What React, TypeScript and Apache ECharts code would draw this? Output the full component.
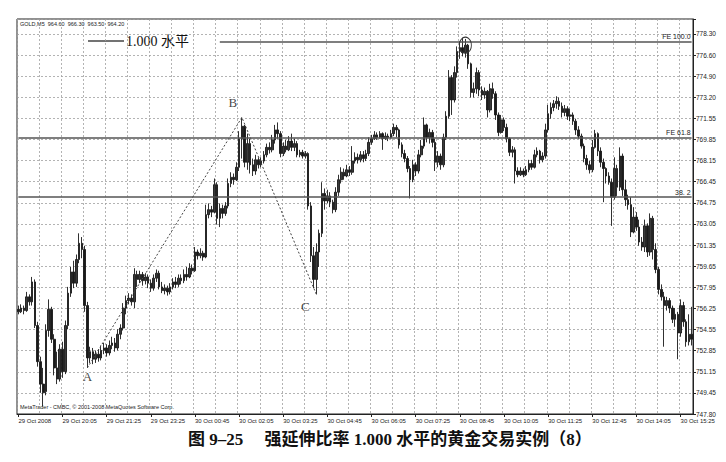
import React, { useEffect, useRef } from 'react';
import * as echarts from 'echarts';

const tickLabels = [
  '29 Oct 2008', '29 Oct 20:05', '29 Oct 21:25', '29 Oct 23:25', '30 Oct 00:45', '30 Oct 02:05',
  '30 Oct 03:25', '30 Oct 04:45', '30 Oct 06:05', '30 Oct 07:25', '30 Oct 08:45', '30 Oct 10:05',
  '30 Oct 11:25', '30 Oct 12:45', '30 Oct 14:05', '30 Oct 15:25',
];

const priceLabels = [
  '747.80', '749.45', '751.15', '752.85', '754.55', '756.25', '757.95', '759.65', '761.35', '763.05',
  '764.75', '766.45', '768.15', '769.85', '771.55', '773.20', '774.90', '776.60', '778.30',
];

const opens = [
  756.2, 756.0, 756.3, 756.1, 757.2, 756.8, 758.4, 754.9, 752.0, 750.2,
  749.6, 754.5, 756.2, 753.8, 751.5, 750.6, 753.0, 751.2, 754.9, 757.5,
  759.2, 758.3, 760.2, 761.5, 761.0, 756.5, 752.3, 752.8, 752.2, 752.6,
  752.3, 752.9, 753.1, 752.7, 753.3, 753.5, 753.1, 754.2, 754.7, 756.3,
  756.9, 757.1, 756.8, 759.0, 758.6, 759.0, 758.5, 758.8, 758.3, 757.9,
  758.7, 759.1, 758.0, 757.7, 757.9, 757.6, 758.0, 758.4, 758.2, 758.7,
  758.5, 759.0, 758.8, 759.5, 759.3, 760.8, 760.5, 760.7, 760.4, 763.8,
  764.2, 764.0, 766.2, 763.5, 764.3, 763.9, 764.5, 766.3, 766.8, 766.6,
  767.6, 769.9, 770.9, 768.0, 769.5, 767.8, 767.3, 768.2, 767.8, 768.1,
  768.6, 769.2, 769.0, 769.8, 770.6, 770.3, 768.7, 769.3, 769.0, 769.7,
  769.2, 769.5, 768.6, 768.8, 768.5, 768.7, 764.5, 760.5, 758.6, 760.8,
  762.3, 765.5, 764.9, 765.3, 764.8, 764.2, 765.6, 766.6, 767.2, 766.9,
  767.4, 767.2, 768.1, 768.4, 768.2, 768.6, 768.3, 768.7, 769.6, 769.9,
  770.2, 770.0, 770.3, 769.9, 770.1, 770.0, 770.3, 770.8, 770.6, 769.4,
  768.7, 768.3, 767.5, 766.6, 767.8, 767.3, 768.6, 769.3, 771.0, 770.0,
  770.4, 769.6, 768.0, 768.5, 767.8, 770.0, 771.7, 774.8, 773.0, 775.2,
  776.9, 777.2, 776.8, 777.4, 775.9, 773.6, 773.9, 775.2, 773.8, 773.4,
  773.7, 772.2, 773.9, 773.5, 771.8, 770.4, 771.4, 770.8, 769.9, 768.8,
  769.0, 767.3, 767.0, 767.3, 767.0, 767.4, 767.9, 767.6, 768.6, 768.9,
  768.2, 768.5, 770.6, 771.9, 772.4, 772.7, 772.9, 772.5, 772.0, 772.3,
  771.7, 771.8, 771.3, 770.6, 770.1, 769.3, 768.3, 767.8, 767.4, 769.2,
  770.3, 768.9, 768.0, 767.5, 766.9, 766.4, 765.2, 767.5, 766.0, 768.5,
  765.8, 765.0, 764.6, 762.4, 763.6, 762.8, 761.6, 761.2, 762.9, 760.8,
  763.5, 761.0, 759.4, 757.8, 757.2, 756.5, 756.9, 756.3, 755.4, 755.8,
  754.3, 756.5, 755.2, 753.6, 754.2,
];

const closes = [
  756.0, 756.3, 756.1, 757.2, 756.8, 758.4, 754.9, 752.0, 750.2, 749.5,
  754.5, 756.2, 753.8, 751.5, 750.6, 753.0, 751.2, 754.9, 757.5, 759.2,
  758.3, 760.2, 761.5, 761.0, 756.5, 752.3, 752.8, 752.2, 752.6, 752.3,
  752.9, 753.1, 752.7, 753.3, 753.5, 753.1, 754.2, 754.7, 756.3, 756.9,
  757.1, 756.8, 759.0, 758.6, 759.0, 758.5, 758.8, 758.3, 757.9, 758.7,
  759.1, 758.0, 757.7, 757.9, 757.6, 758.0, 758.4, 758.2, 758.7, 758.5,
  759.0, 758.8, 759.5, 759.3, 760.8, 760.5, 760.7, 760.4, 763.8, 764.2,
  764.0, 766.2, 763.5, 764.3, 763.9, 764.5, 766.3, 766.8, 766.6, 767.6,
  769.9, 770.9, 768.0, 769.5, 767.8, 767.3, 768.2, 767.8, 768.1, 768.6,
  769.2, 769.0, 769.8, 770.6, 770.3, 768.7, 769.3, 769.0, 769.7, 769.2,
  769.5, 768.6, 768.8, 768.5, 768.7, 764.5, 760.5, 758.6, 760.8, 762.3,
  765.5, 764.9, 765.3, 764.8, 764.2, 765.6, 766.6, 767.2, 766.9, 767.4,
  767.2, 768.1, 768.4, 768.2, 768.6, 768.3, 768.7, 769.6, 769.9, 770.2,
  770.0, 770.3, 769.9, 770.1, 770.0, 770.3, 770.8, 770.6, 769.4, 768.7,
  768.3, 767.5, 766.6, 767.8, 767.3, 768.6, 769.3, 771.0, 770.0, 770.4,
  769.6, 768.0, 768.5, 767.8, 770.0, 771.7, 774.8, 773.0, 775.2, 776.9,
  777.2, 776.8, 777.4, 775.9, 773.6, 773.9, 775.2, 773.8, 773.4, 773.7,
  772.2, 773.9, 773.5, 771.8, 770.4, 771.4, 770.8, 769.9, 768.8, 769.0,
  767.3, 767.0, 767.3, 767.0, 767.4, 767.9, 767.6, 768.6, 768.9, 768.2,
  768.5, 770.6, 771.9, 772.4, 772.7, 772.9, 772.5, 772.0, 772.3, 771.7,
  771.8, 771.3, 770.6, 770.1, 769.3, 768.3, 767.8, 767.4, 769.2, 770.3,
  768.9, 768.0, 767.5, 766.9, 766.4, 765.2, 767.5, 766.0, 768.5, 765.8,
  765.0, 764.6, 762.4, 763.6, 762.8, 761.6, 761.2, 762.9, 760.8, 763.5,
  761.0, 759.4, 757.8, 757.2, 756.5, 756.9, 756.3, 755.4, 755.8, 754.3,
  756.5, 755.2, 753.6, 754.2, 753.8,
];

const lows = [
  755.8, 755.9, 755.8, 756.0, 756.5, 756.5, 754.7, 751.6, 749.5, 748.4,
  749.3, 754.0, 753.5, 750.9, 750.2, 750.4, 750.7, 751.0, 754.6, 757.2,
  757.9, 758.0, 759.9, 760.3, 756.0, 751.5, 751.9, 751.8, 751.9, 752.0,
  752.1, 752.6, 752.4, 752.5, 753.0, 752.8, 752.9, 753.8, 754.5, 755.8,
  756.6, 756.5, 756.3, 758.0, 758.3, 758.1, 758.2, 757.9, 757.6, 757.7,
  758.4, 757.8, 757.5, 757.4, 757.3, 757.4, 757.8, 757.9, 758.0, 758.2,
  758.3, 758.5, 758.7, 759.0, 759.2, 760.2, 760.3, 760.1, 760.3, 763.5,
  763.6, 763.9, 763.0, 762.8, 763.5, 763.7, 764.3, 766.0, 766.2, 766.5,
  767.3, 768.3, 767.6, 767.4, 767.1, 766.9, 767.0, 767.5, 767.6, 767.9,
  768.4, 768.7, 768.8, 769.5, 769.9, 768.4, 768.5, 768.8, 768.9, 768.9,
  768.9, 768.4, 768.4, 768.3, 768.3, 764.2, 760.0, 757.9, 757.4, 759.6,
  762.0, 764.2, 764.7, 764.4, 763.9, 764.0, 765.3, 766.3, 766.6, 766.8,
  766.9, 767.0, 767.9, 767.9, 768.0, 768.0, 768.1, 768.5, 769.4, 769.8,
  769.8, 769.9, 769.0, 769.8, 769.7, 769.9, 770.1, 770.0, 769.1, 768.4,
  768.0, 767.2, 765.1, 766.4, 766.9, 767.1, 768.4, 769.1, 769.6, 769.5,
  769.2, 767.3, 767.6, 767.4, 767.6, 769.8, 771.5, 771.8, 772.8, 774.8,
  776.3, 776.5, 776.4, 775.5, 773.2, 773.2, 773.5, 773.3, 773.0, 773.1,
  771.6, 772.0, 773.1, 771.4, 770.1, 770.3, 770.5, 769.6, 768.5, 768.4,
  766.3, 766.8, 766.9, 766.8, 766.9, 767.2, 767.4, 767.5, 768.4, 767.9,
  768.0, 768.3, 770.4, 771.5, 772.1, 772.3, 772.2, 771.6, 771.7, 771.4,
  771.3, 771.0, 770.2, 769.9, 769.1, 768.0, 767.4, 767.1, 767.2, 769.1,
  768.5, 767.6, 764.8, 766.3, 766.2, 762.9, 765.0, 765.3, 765.7, 765.3,
  764.5, 764.2, 762.0, 762.3, 762.5, 761.3, 760.9, 760.8, 760.4, 760.5,
  760.2, 759.1, 757.4, 756.9, 753.2, 756.1, 755.9, 755.1, 754.8, 752.2,
  754.0, 754.8, 753.2, 753.3, 753.3,
];

const highs = [
  756.5, 756.6, 756.5, 757.6, 757.4, 758.8, 758.6, 755.2, 752.4, 751.5,
  755.0, 757.0, 756.4, 754.2, 752.8, 753.4, 753.6, 755.3, 758.0, 759.6,
  760.1, 760.6, 762.3, 762.0, 761.3, 756.8, 753.2, 753.1, 752.9, 753.0,
  753.3, 753.5, 753.4, 753.7, 754.0, 753.9, 754.6, 755.0, 756.7, 757.3,
  757.5, 757.4, 759.5, 759.3, 759.3, 759.2, 759.1, 759.0, 758.6, 759.0,
  759.4, 759.3, 758.4, 758.2, 758.1, 758.3, 758.7, 758.8, 759.0, 759.0,
  759.4, 759.6, 759.9, 759.8, 761.2, 761.0, 761.1, 760.9, 764.6, 764.7,
  764.5, 766.7, 766.4, 764.7, 764.6, 764.8, 766.7, 767.2, 767.1, 768.0,
  770.5, 771.6, 771.0, 770.3, 769.9, 768.3, 768.6, 768.4, 768.4, 768.9,
  769.5, 769.6, 770.2, 771.0, 771.2, 770.5, 769.6, 769.8, 770.1, 770.3,
  769.9, 769.7, 769.0, 769.0, 768.9, 768.8, 764.8, 761.2, 761.5, 762.6,
  766.4, 765.9, 765.8, 765.6, 765.0, 766.0, 767.0, 767.6, 767.5, 767.8,
  767.7, 769.3, 768.8, 768.7, 768.9, 768.9, 769.0, 770.0, 770.2, 770.5,
  770.4, 770.5, 770.4, 770.4, 770.3, 770.6, 771.1, 771.0, 770.7, 769.6,
  769.0, 768.5, 767.7, 768.2, 768.0, 769.0, 769.8, 771.6, 771.1, 770.7,
  770.6, 769.9, 768.9, 768.7, 770.3, 772.1, 775.4, 775.0, 775.7, 777.3,
  777.7, 778.0, 777.9, 777.5, 776.0, 774.4, 775.6, 775.4, 774.1, 774.0,
  773.8, 774.3, 774.4, 773.7, 772.0, 771.8, 771.6, 771.1, 770.0, 769.3,
  769.2, 767.6, 767.6, 767.5, 767.7, 768.2, 768.2, 769.0, 769.2, 769.0,
  768.8, 771.1, 772.6, 772.8, 773.0, 773.3, 773.2, 772.8, 772.6, 772.5,
  772.3, 772.0, 771.5, 770.9, 770.3, 769.5, 768.6, 768.1, 769.8, 770.6,
  770.4, 769.2, 768.3, 767.6, 767.2, 766.7, 768.4, 767.8, 769.2, 768.7,
  766.6, 765.4, 765.2, 764.4, 764.0, 763.4, 762.0, 763.4, 763.1, 763.9,
  763.7, 761.5, 759.6, 758.2, 757.6, 757.2, 757.1, 756.5, 756.3, 756.0,
  757.0, 756.8, 755.4, 755.8, 756.4,
];

const feLevels = [777.7, 770.0, 765.2];
const feNames = ['FE 100.0', 'FE 61.8', '38. 2'];
const feStartIndex = [73, 0, 0];

const swingNames = ['A', 'B', 'C'];
const swingIndex = [25, 81, 108];
const swingPrice = [751.5, 771.6, 757.4];

const peakIndex = 162;
const peakPrice = 777.4;

const Y_MIN = 747.8;
const Y_MAX = 779.5;
const Y_LAST_LABEL = 778.3;

export default function App() {
  const ref = useRef<HTMLDivElement>(null);

  useEffect(() => {
    const chart = echarts.init(ref.current!, null, { renderer: 'svg' });
    const interval = (Y_LAST_LABEL - Y_MIN) / (priceLabels.length - 1);
    const categories = closes.map((_, i) => String(i));
    const candles = closes.map((c, i) => [opens[i], c, lows[i], highs[i]]);
    const last = closes.length - 1;
    const gridLine = { color: '#a0a0a0', width: 0.8, type: [2, 2] as number[] };

    const swingLabelStyles = [
      { position: 'bottom', distance: 2, offset: [0, 0] },
      { position: 'top', distance: 3, offset: [-9, -5] },
      { position: 'bottom', distance: 2, offset: [-11, 3] },
    ];

    const option: any = {
      animation: false,
      backgroundColor: '#ffffff',
      textStyle: { fontFamily: 'Liberation Sans, DejaVu Sans, sans-serif' },
      grid: {
        left: 17, right: 33, top: 19, bottom: 48,
        show: true, borderColor: '#222', borderWidth: 1, backgroundColor: '#fff',
      },
      xAxis: {
        type: 'category',
        data: categories,
        boundaryGap: true,
        axisLine: { show: true, lineStyle: { color: '#222', width: 1 } },
        axisTick: { show: true, interval: 15, alignWithLabel: true, length: 3, lineStyle: { color: '#222' } },
        axisLabel: {
          interval: 15, fontSize: 6, color: '#222', align: 'left', margin: 4,
          formatter: (_v: string, idx: number) => (idx % 16 === 0 ? tickLabels[idx / 16] ?? '' : ''),
        },
        splitLine: { show: true, interval: 7, lineStyle: gridLine },
      },
      yAxis: {
        type: 'value',
        position: 'right',
        min: Y_MIN,
        max: Y_MAX,
        interval,
        scale: true,
        axisLine: { show: true, lineStyle: { color: '#222', width: 1 } },
        axisTick: { show: true, length: 3, lineStyle: { color: '#222' } },
        axisLabel: {
          fontSize: 6.5, color: '#222', margin: 3,
          formatter: (v: number) => {
            const k = Math.round((v - Y_MIN) / interval);
            if (Math.abs(v - (Y_MIN + k * interval)) > 1e-6) return '';
            return priceLabels[k] ?? '';
          },
        },
        splitLine: { show: true, lineStyle: gridLine },
      },
      series: [
        {
          type: 'candlestick',
          data: candles,
          barWidth: 2.1,
          itemStyle: {
            color: '#3a3a3a', color0: '#1a1a1a', borderColor: '#1a1a1a', borderColor0: '#1a1a1a', borderWidth: 0.9,
          },
          markLine: {
            silent: true,
            symbol: ['none', 'none'],
            lineStyle: { color: '#555', width: 1.6, type: 'solid' },
            label: { show: true, position: 'insideEndTop', formatter: '{b}', fontSize: 7, color: '#222', distance: 1 },
            data: feLevels.map((lv, i) => [
              { coord: [feStartIndex[i], lv], name: feNames[i] },
              { coord: [last, lv] },
            ]),
          },
          markPoint: {
            silent: true,
            symbol: 'circle',
            symbolSize: [12, 16],
            itemStyle: { color: 'rgba(0,0,0,0)', borderColor: '#333', borderWidth: 1 },
            label: { show: false },
            data: [{ coord: [peakIndex, peakPrice] }],
          },
          z: 2,
        },
        {
          type: 'line',
          data: swingIndex.map((x, i) => [x, swingPrice[i]]),
          symbol: 'none',
          lineStyle: { color: '#444', width: 1, type: [2, 2] },
          z: 3,
        },
        {
          type: 'scatter',
          data: swingIndex.map((x, i) => ({
            value: [x, swingPrice[i]],
            label: swingLabelStyles[i],
          })),
          symbolSize: 1,
          itemStyle: { color: 'rgba(0,0,0,0)' },
          label: {
            show: true,
            formatter: (p: any) => swingNames[p.dataIndex],
            fontFamily: 'Liberation Serif, serif',
            fontSize: 13,
            color: '#111',
          },
          z: 4,
        },
      ],
      graphic: [
        {
          type: 'text', left: 20, top: 21,
          style: { text: 'GOLD,M5  964.60  966.30  963.50  964.20', fontSize: 5.5, fill: '#222', fontFamily: 'Liberation Sans, sans-serif' },
        },
        {
          type: 'line', shape: { x1: 88, y1: 41, x2: 124, y2: 41 },
          style: { stroke: '#444', lineWidth: 1.5 },
        },
        {
          type: 'text', x: 126, y: 41,
          style: {
            text: '1.000 水平', fontSize: 14, fill: '#111', verticalAlign: 'middle',
            fontFamily: 'Liberation Serif, Noto Sans CJK SC, serif',
          },
        },
        {
          type: 'text', left: 20, top: 404,
          style: { text: 'MetaTrader - CMBC, © 2001-2008 MetaQuotes Software Corp.', fontSize: 5.5, fill: '#222', fontFamily: 'Liberation Sans, sans-serif' },
        },
        {
          type: 'text', x: 188, y: 439,
          style: {
            text: '图 9–25　 强延伸比率 1.000 水平的黄金交易实例（8）',
            fontSize: 17, fontWeight: 'bold', fill: '#111', verticalAlign: 'middle',
            fontFamily: 'Liberation Serif, Noto Sans CJK SC, serif',
          },
        },
      ],
    };

    chart.setOption(option);
    return () => chart.dispose();
  }, []);

  return (
    <div
      ref={ref}
      style={{ position: 'fixed', left: 0, top: 0, width: 726, height: 462, background: '#fff' }}
    />
  );
}
